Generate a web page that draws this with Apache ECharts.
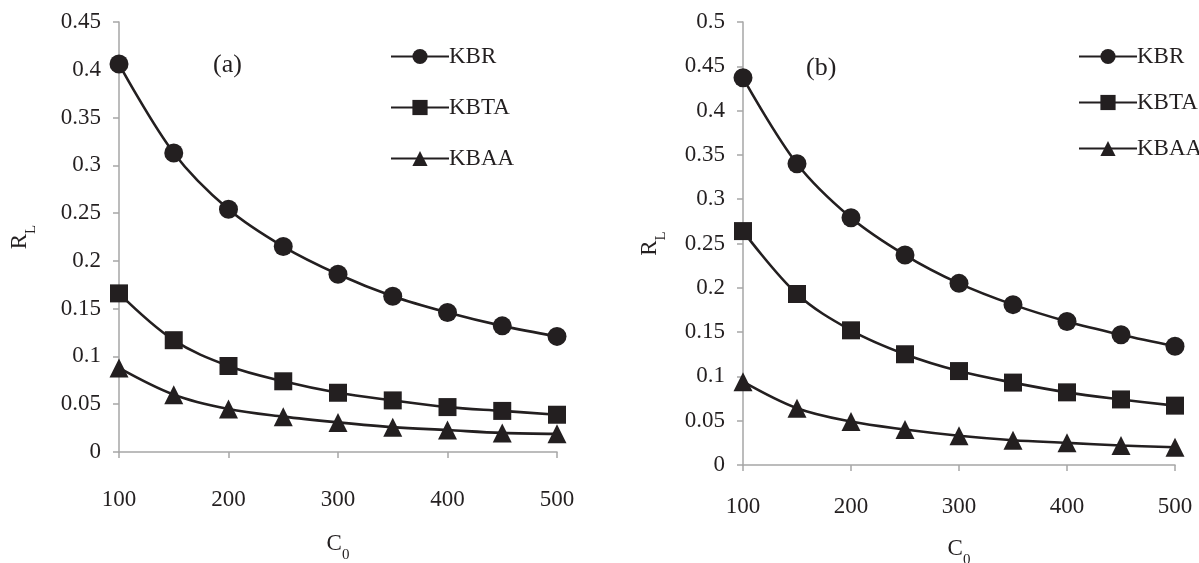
<!DOCTYPE html>
<html><head><meta charset="utf-8">
<script src="https://cdn.jsdelivr.net/npm/echarts@6/dist/echarts.min.js"></script>
<style>html,body{margin:0;padding:0;background:#fff}#c{width:1199px;height:563px}</style>
</head><body><div id="c"></div>
<script>
const c0 = [100, 150, 200, 250, 300, 350, 400, 450, 500];
const seriesNames = ['KBR', 'KBTA', 'KBAA'];
const aKBR  = [0.406, 0.313, 0.254, 0.215, 0.186, 0.163, 0.146, 0.132, 0.121];
const aKBTA = [0.166, 0.117, 0.090, 0.074, 0.062, 0.054, 0.047, 0.043, 0.039];
const aKBAA = [0.088, 0.060, 0.045, 0.037, 0.031, 0.026, 0.023, 0.020, 0.019];
const bKBR  = [0.437, 0.340, 0.279, 0.237, 0.205, 0.181, 0.162, 0.147, 0.134];
const bKBTA = [0.264, 0.193, 0.152, 0.125, 0.106, 0.093, 0.082, 0.074, 0.067];
const bKBAA = [0.094, 0.064, 0.049, 0.040, 0.033, 0.028, 0.025, 0.022, 0.020];
const panelLabels = ['(a)', '(b)'];

const FONT = 'Liberation Serif';
const FS = 23;
const INK = '#231f20';
const AXIS = '#a6a6a6';
const symbols = ['circle', 'rect', 'triangle'];
const sizes = [19, 18, 19];

function pairs(ys){ return c0.map((x,i)=>[x, ys[i]]); }
function mkSeries(name, ys, idx, k){
  return {
    type:'line', name, data: pairs(ys), xAxisIndex: idx, yAxisIndex: idx,
    smooth: 0.35, symbol: symbols[k], symbolSize: sizes[k], showAllSymbol: true,
    lineStyle:{color: INK, width: 2.6}, itemStyle:{color: INK},
    z: 3
  };
}
const richName = {m:{fontFamily:FONT, fontSize:FS, color:INK}, s:{fontFamily:FONT, fontSize:15, color:INK, verticalAlign:'bottom', padding:[0,0,-8,0]}};
function xAxis(idx, margin, gap){
  return {
    type:'value', gridIndex: idx, min:100, max:500, interval:100,
    axisLine:{lineStyle:{color:AXIS, width:1.5}},
    axisTick:{length:6, lineStyle:{color:AXIS, width:1.5}},
    splitLine:{show:false},
    axisLabel:{color:INK, fontFamily:FONT, fontSize:FS, margin: margin},
    name:'{m|C}{s|0}', nameLocation:'middle', nameGap: gap,
    nameTextStyle:{rich: richName}
  };
}
function yAxis(idx, max, gap){
  return {
    type:'value', gridIndex: idx, min:0, max:max, interval:0.05,
    axisLine:{show:true, lineStyle:{color:AXIS, width:1.5}},
    axisTick:{show:true, length:6, lineStyle:{color:AXIS, width:1.5}},
    splitLine:{show:false},
    axisLabel:{color:INK, fontFamily:FONT, fontSize:FS, margin:18,
      formatter: v => String(parseFloat(v.toFixed(2)))},
    name:'{m|R}{s|L}', nameLocation:'middle', nameGap: gap, nameRotate: 90,
    nameTextStyle:{rich: richName}
  };
}
function legend(left, top, gap){
  return {
    orient:'vertical', left, top, itemWidth:58, itemHeight:19, itemGap:gap,
    data: seriesNames, selectedMode:false,
    textStyle:{fontFamily:FONT, fontSize:FS, color:INK, padding:[0,0,0,-5]}
  };
}

const chart = echarts.init(document.getElementById('c'));
chart.setOption({
  animation:false,
  backgroundColor:'#fff',
  grid:[
    {left:119, top:22, width:438, height:430, containLabel:false, outerBoundsMode:'none'},
    {left:743, top:22, width:432, height:443, containLabel:false, outerBoundsMode:'none'}
  ],
  xAxis:[xAxis(0, 36, 80), xAxis(1, 30, 72)],
  yAxis:[yAxis(0, 0.45, 88), yAxis(1, 0.5, 82)],
  legend:[legend(385, 40, 28), legend(1073, 40, 23)],
  graphic:[
    {type:'text', left:213, top:52, style:{text:panelLabels[0], font:'26px "Liberation Serif"', fill:INK}},
    {type:'text', left:806, top:55, style:{text:panelLabels[1], font:'26px "Liberation Serif"', fill:INK}}
  ],
  series:[
    mkSeries('KBR', aKBR, 0, 0), mkSeries('KBTA', aKBTA, 0, 1), mkSeries('KBAA', aKBAA, 0, 2),
    mkSeries('KBR', bKBR, 1, 0), mkSeries('KBTA', bKBTA, 1, 1), mkSeries('KBAA', bKBAA, 1, 2)
  ]
});
</script></body></html>
